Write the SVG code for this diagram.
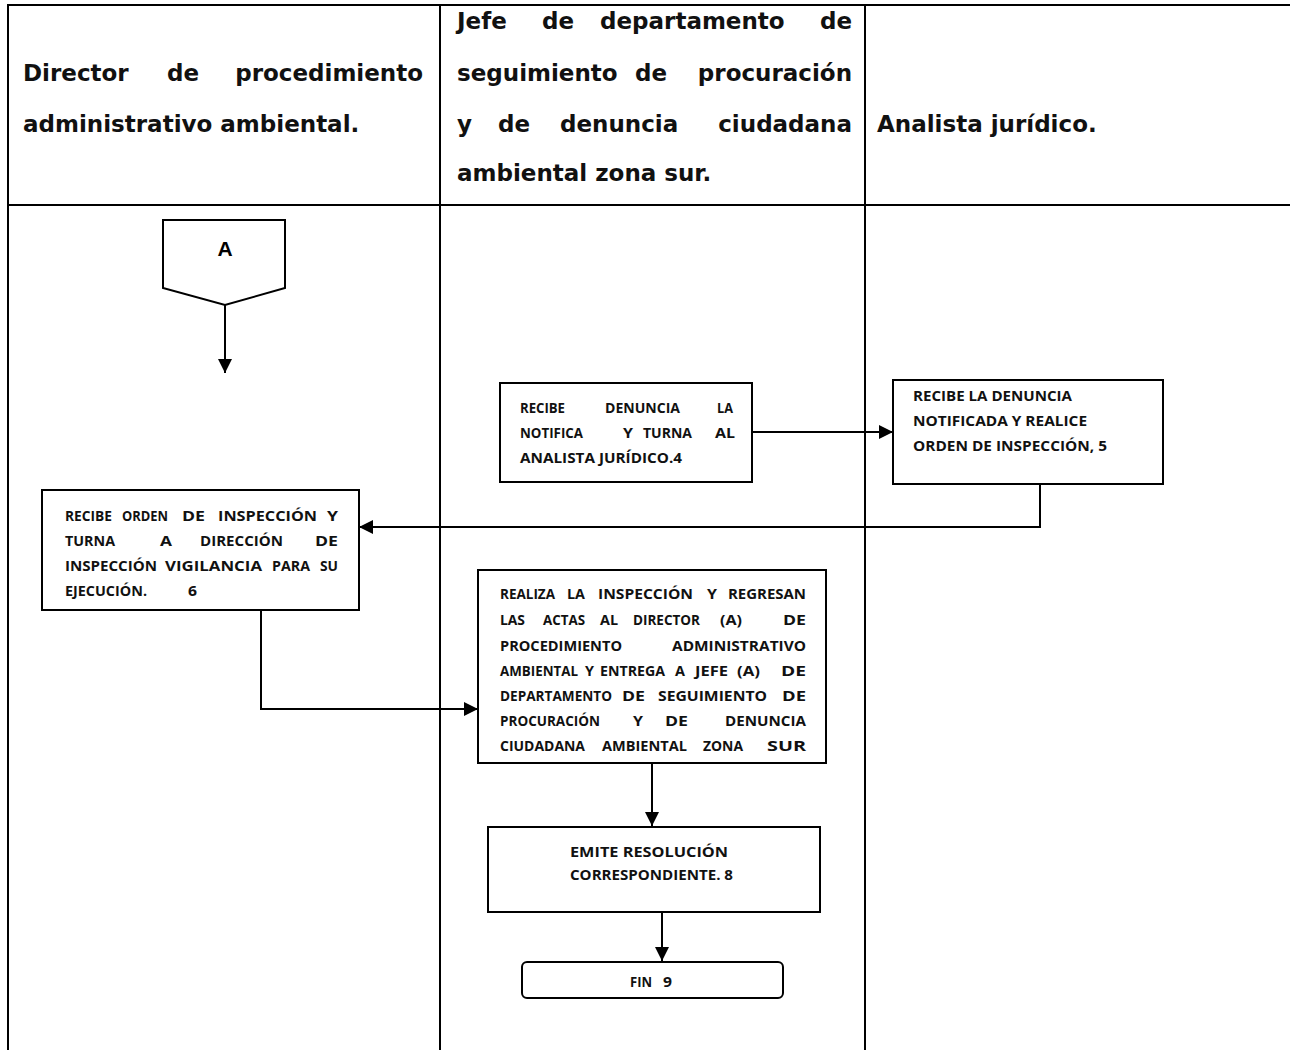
<svg xmlns="http://www.w3.org/2000/svg" width="1290" height="1050" viewBox="0 0 1290 1050">
<style>
.grid{stroke:#000;stroke-width:2;fill:none}
.hd{font-family:"DejaVu Sans","Liberation Sans",sans-serif;font-size:23px;font-weight:bold;fill:#111}
.e{text-anchor:end}
.bx{fill:#fff;stroke:#000;stroke-width:2}
.tx{font-family:"Open Sans","Liberation Sans",sans-serif;font-size:13.5px;font-weight:bold;fill:#111}
.ln{stroke:#000;stroke-width:2;fill:none}
</style>
<defs>
<marker id="ah" viewBox="0 0 10 10" refX="10" refY="5" markerWidth="14" markerHeight="14" orient="auto" markerUnits="userSpaceOnUse"><path d="M0,0 L10,5 L0,10 z" fill="#000"/></marker>
</defs>
<g id="table">
<line class="grid" x1="7" y1="5" x2="1290" y2="5" stroke-width="3"/>
<line class="grid" x1="7" y1="205" x2="1290" y2="205" stroke-width="3"/>
<line class="grid" x1="8" y1="4" x2="8" y2="1050"/>
<line class="grid" x1="440" y1="4" x2="440" y2="1050"/>
<line class="grid" x1="865" y1="4" x2="865" y2="1050"/>
<text class="hd" x="23" y="81">Director</text>
<text class="hd" x="167" y="81">de</text>
<text class="hd e" x="423" y="81">procedimiento</text>
<text class="hd" x="23" y="132">administrativo ambiental.</text>
<text class="hd" x="457" y="29">Jefe</text>
<text class="hd" x="542" y="29">de</text>
<text class="hd" x="600" y="29">departamento</text>
<text class="hd e" x="852" y="29">de</text>
<text class="hd" x="457" y="81">seguimiento</text>
<text class="hd" x="635" y="81">de</text>
<text class="hd e" x="852" y="81">procuración</text>
<text class="hd" x="457" y="132">y</text>
<text class="hd" x="498" y="132">de</text>
<text class="hd" x="560" y="132">denuncia</text>
<text class="hd e" x="852" y="132">ciudadana</text>
<text class="hd" x="457" y="181">ambiental zona sur.</text>
<text class="hd" x="877" y="132">Analista jurídico.</text>
</g>
<g id="connectors">
<line class="ln" x1="225" y1="305" x2="225" y2="373" marker-end="url(#ah)"/>
<line class="ln" x1="752" y1="432" x2="893" y2="432" marker-end="url(#ah)"/>
<polyline class="ln" points="1040,484 1040,527 359,527" marker-end="url(#ah)"/>
<polyline class="ln" points="261,610 261,709 478,709" marker-end="url(#ah)"/>
<line class="ln" x1="652" y1="763" x2="652" y2="826" marker-end="url(#ah)"/>
<line class="ln" x1="662" y1="912" x2="662" y2="961" marker-end="url(#ah)"/>
</g>
<g id="nodeA">
<path class="bx" d="M163,220 L285,220 L285,288 L225,305 L163,288 Z"/>
<text x="225" y="256" text-anchor="middle" style="font-family:'Liberation Sans',Arial,sans-serif;font-size:21px;font-weight:bold">A</text>
</g>
<g id="node4">
<rect class="bx" x="500" y="383" width="252" height="99"/>
<text class="tx" x="520" y="413" textLength="45" lengthAdjust="spacingAndGlyphs">RECIBE</text>
<text class="tx" x="605" y="413" textLength="75" lengthAdjust="spacingAndGlyphs">DENUNCIA</text>
<text class="tx" x="717" y="413" textLength="16" lengthAdjust="spacingAndGlyphs">LA</text>
<text class="tx" x="520" y="438" textLength="63" lengthAdjust="spacingAndGlyphs">NOTIFICA</text>
<text class="tx" x="623" y="438" textLength="10" lengthAdjust="spacingAndGlyphs">Y</text>
<text class="tx" x="643" y="438" textLength="49" lengthAdjust="spacingAndGlyphs">TURNA</text>
<text class="tx" x="715" y="438" textLength="20" lengthAdjust="spacingAndGlyphs">AL</text>
<text class="tx" x="520" y="463" textLength="162" lengthAdjust="spacingAndGlyphs">ANALISTA JURÍDICO.4</text>
</g>
<g id="node5">
<rect class="bx" x="893" y="380" width="270" height="104"/>
<text class="tx" x="913" y="401" textLength="159" lengthAdjust="spacingAndGlyphs">RECIBE LA DENUNCIA</text>
<text class="tx" x="913" y="426" textLength="174" lengthAdjust="spacingAndGlyphs">NOTIFICADA Y REALICE</text>
<text class="tx" x="913" y="451" textLength="194" lengthAdjust="spacingAndGlyphs">ORDEN DE INSPECCIÓN, 5</text>
</g>
<g id="node6">
<rect class="bx" x="42" y="490" width="317" height="120"/>
<text class="tx" x="65" y="521" textLength="47" lengthAdjust="spacingAndGlyphs">RECIBE</text>
<text class="tx" x="122" y="521" textLength="46" lengthAdjust="spacingAndGlyphs">ORDEN</text>
<text class="tx" x="182" y="521" textLength="23" lengthAdjust="spacingAndGlyphs">DE</text>
<text class="tx" x="218" y="521" textLength="99" lengthAdjust="spacingAndGlyphs">INSPECCIÓN</text>
<text class="tx" x="327" y="521" textLength="11" lengthAdjust="spacingAndGlyphs">Y</text>
<text class="tx" x="65" y="546" textLength="50" lengthAdjust="spacingAndGlyphs">TURNA</text>
<text class="tx" x="160" y="546" textLength="12" lengthAdjust="spacingAndGlyphs">A</text>
<text class="tx" x="200" y="546" textLength="83" lengthAdjust="spacingAndGlyphs">DIRECCIÓN</text>
<text class="tx" x="315" y="546" textLength="23" lengthAdjust="spacingAndGlyphs">DE</text>
<text class="tx" x="65" y="571" textLength="92" lengthAdjust="spacingAndGlyphs">INSPECCIÓN</text>
<text class="tx" x="165" y="571" textLength="97" lengthAdjust="spacingAndGlyphs">VIGILANCIA</text>
<text class="tx" x="272" y="571" textLength="38" lengthAdjust="spacingAndGlyphs">PARA</text>
<text class="tx" x="320" y="571" textLength="18" lengthAdjust="spacingAndGlyphs">SU</text>
<text class="tx" x="65" y="596" textLength="82" lengthAdjust="spacingAndGlyphs">EJECUCIÓN.</text>
<text class="tx" x="188" y="596" textLength="9" lengthAdjust="spacingAndGlyphs">6</text>
</g>
<g id="node7">
<rect class="bx" x="478" y="570" width="348" height="193"/>
<text class="tx" x="500" y="599" textLength="55" lengthAdjust="spacingAndGlyphs">REALIZA</text>
<text class="tx" x="567" y="599" textLength="18" lengthAdjust="spacingAndGlyphs">LA</text>
<text class="tx" x="598" y="599" textLength="95" lengthAdjust="spacingAndGlyphs">INSPECCIÓN</text>
<text class="tx" x="707" y="599" textLength="10" lengthAdjust="spacingAndGlyphs">Y</text>
<text class="tx" x="728" y="599" textLength="78" lengthAdjust="spacingAndGlyphs">REGRESAN</text>
<text class="tx" x="500" y="625" textLength="25" lengthAdjust="spacingAndGlyphs">LAS</text>
<text class="tx" x="543" y="625" textLength="42" lengthAdjust="spacingAndGlyphs">ACTAS</text>
<text class="tx" x="600" y="625" textLength="18" lengthAdjust="spacingAndGlyphs">AL</text>
<text class="tx" x="633" y="625" textLength="67" lengthAdjust="spacingAndGlyphs">DIRECTOR</text>
<text class="tx" x="720" y="625" textLength="22" lengthAdjust="spacingAndGlyphs">(A)</text>
<text class="tx" x="783" y="625" textLength="23" lengthAdjust="spacingAndGlyphs">DE</text>
<text class="tx" x="500" y="651" textLength="122" lengthAdjust="spacingAndGlyphs">PROCEDIMIENTO</text>
<text class="tx" x="672" y="651" textLength="134" lengthAdjust="spacingAndGlyphs">ADMINISTRATIVO</text>
<text class="tx" x="500" y="676" textLength="78" lengthAdjust="spacingAndGlyphs">AMBIENTAL</text>
<text class="tx" x="585" y="676" textLength="9" lengthAdjust="spacingAndGlyphs">Y</text>
<text class="tx" x="600" y="676" textLength="65" lengthAdjust="spacingAndGlyphs">ENTREGA</text>
<text class="tx" x="675" y="676" textLength="10" lengthAdjust="spacingAndGlyphs">A</text>
<text class="tx" x="695" y="676" textLength="33" lengthAdjust="spacingAndGlyphs">JEFE</text>
<text class="tx" x="737" y="676" textLength="23" lengthAdjust="spacingAndGlyphs">(A)</text>
<text class="tx" x="781" y="676" textLength="25" lengthAdjust="spacingAndGlyphs">DE</text>
<text class="tx" x="500" y="701" textLength="112" lengthAdjust="spacingAndGlyphs">DEPARTAMENTO</text>
<text class="tx" x="622" y="701" textLength="23" lengthAdjust="spacingAndGlyphs">DE</text>
<text class="tx" x="658" y="701" textLength="109" lengthAdjust="spacingAndGlyphs">SEGUIMIENTO</text>
<text class="tx" x="782" y="701" textLength="24" lengthAdjust="spacingAndGlyphs">DE</text>
<text class="tx" x="500" y="726" textLength="100" lengthAdjust="spacingAndGlyphs">PROCURACIÓN</text>
<text class="tx" x="633" y="726" textLength="10" lengthAdjust="spacingAndGlyphs">Y</text>
<text class="tx" x="665" y="726" textLength="23" lengthAdjust="spacingAndGlyphs">DE</text>
<text class="tx" x="725" y="726" textLength="81" lengthAdjust="spacingAndGlyphs">DENUNCIA</text>
<text class="tx" x="500" y="751" textLength="85" lengthAdjust="spacingAndGlyphs">CIUDADANA</text>
<text class="tx" x="602" y="751" textLength="85" lengthAdjust="spacingAndGlyphs">AMBIENTAL</text>
<text class="tx" x="703" y="751" textLength="40" lengthAdjust="spacingAndGlyphs">ZONA</text>
<text class="tx" x="767" y="751" textLength="39" lengthAdjust="spacingAndGlyphs">SUR</text>
</g>
<g id="node8">
<rect class="bx" x="488" y="827" width="332" height="85"/>
<text class="tx" x="570" y="857" textLength="158" lengthAdjust="spacingAndGlyphs">EMITE RESOLUCIÓN</text>
<text class="tx" x="570" y="880" textLength="163" lengthAdjust="spacingAndGlyphs">CORRESPONDIENTE. 8</text>
</g>
<g id="node9">
<rect class="bx" x="522" y="962" width="261" height="36" rx="5"/>
<text class="tx" x="630" y="987" textLength="22" lengthAdjust="spacingAndGlyphs">FIN</text>
<text class="tx" x="663" y="987" textLength="9" lengthAdjust="spacingAndGlyphs">9</text>
</g>
</svg>
